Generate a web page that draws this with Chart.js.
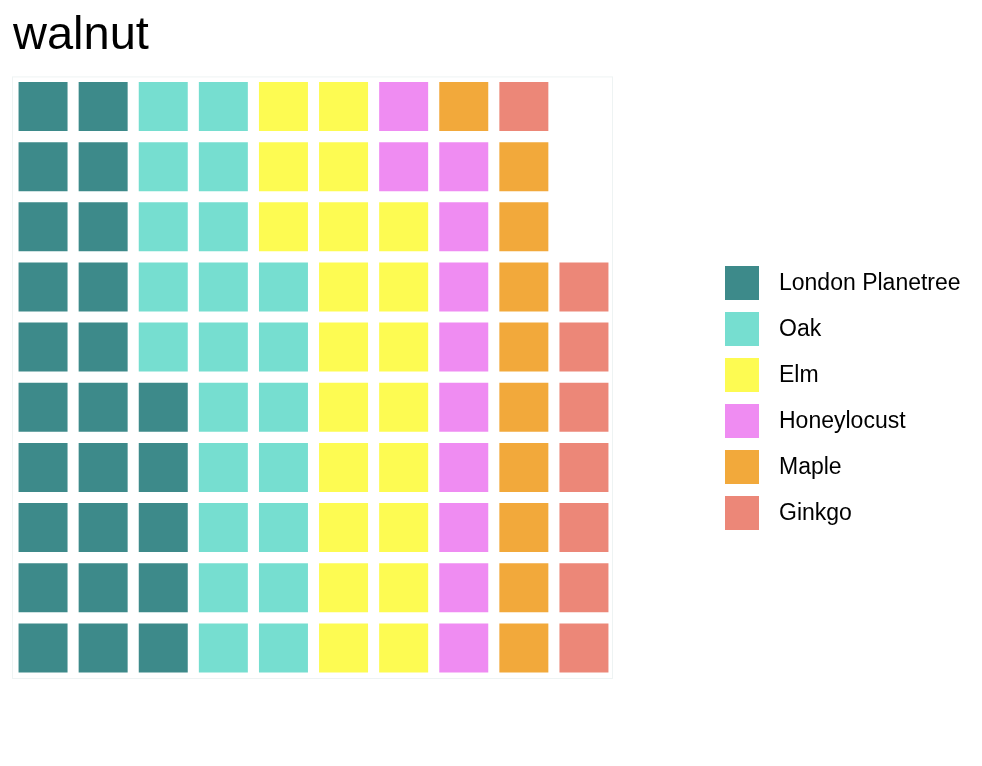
<!DOCTYPE html>
<html>
<head>
<meta charset="utf-8">
<title>walnut</title>
<script src="https://cdn.jsdelivr.net/npm/chart.js@4.4.1/dist/chart.umd.min.js"></script>
<style>
  body { margin: 0; background: #ffffff; }
  #wrap { width: 982px; height: 766px; }
</style>
</head>
<body>
<div id="wrap"><canvas id="waffle" width="982" height="766"></canvas></div>
<script>
// data
const chartTitle = 'walnut';
const categories = ['London Planetree', 'Oak', 'Elm', 'Honeylocust', 'Maple', 'Ginkgo'];
const counts = [25, 22, 21, 11, 10, 8];
const colors = ['#3d8a8a', '#76ded0', '#fdfb52', '#ef8cf2', '#f2a93b', '#ec8778'];
const nRows = 10;
const nCols = 10;

const fontFamily = '"Liberation Sans", Arial, Helvetica, sans-serif';

// fill the grid column by column, bottom to top
function buildDatasets() {
    let idx = 0;
    return categories.map((name, c) => {
        const pts = [];
        for (let k = 0; k < counts[c]; k++) {
            pts.push({ x: Math.floor(idx / nRows) + 1, y: (idx % nRows) + 1 });
            idx++;
        }
        return {
            label: name,
            data: pts,
            backgroundColor: colors[c],
            borderWidth: 0,
            pointStyle: 'rect',
            pointRadius: 49 / Math.SQRT2,
            pointHoverRadius: 49 / Math.SQRT2
        };
    });
}

// faint panel outline behind the tiles
const panelBorder = {
    id: 'panelBorder',
    beforeDatasetsDraw(chart) {
        const a = chart.chartArea;
        const ctx = chart.ctx;
        ctx.save();
        ctx.strokeStyle = '#eef3f3';
        ctx.lineWidth = 1;
        ctx.strokeRect(a.left - 0.5, a.top + 0.5, a.right - a.left - 1, a.bottom - a.top);
        ctx.restore();
    }
};

// legend on the right, drawn from the datasets
const sideLegend = {
    id: 'sideLegend',
    afterDraw(chart) {
        const ctx = chart.ctx;
        const x0 = 725, y0 = 266, box = 34, step = 46;
        ctx.save();
        ctx.font = '23px ' + fontFamily;
        ctx.textBaseline = 'middle';
        chart.data.datasets.forEach((ds, i) => {
            const y = y0 + i * step;
            ctx.fillStyle = ds.backgroundColor;
            ctx.fillRect(x0, y, box, box);
            ctx.fillStyle = '#000000';
            ctx.fillText(ds.label, x0 + box + 20, y + box / 2 + 1);
        });
        ctx.restore();
    }
};

const ctx = document.getElementById('waffle').getContext('2d');
window.myWaffle = new Chart(ctx, {
    type: 'scatter',
    data: { datasets: buildDatasets() },
    options: {
        responsive: false,
        animation: false,
        devicePixelRatio: 1,
        layout: {
            autoPadding: false,
            padding: { left: 13, right: 368, top: 0, bottom: 88 }
        },
        scales: {
            x: { display: false, min: 0.5, max: nCols + 0.5 },
            y: { display: false, min: 0.5, max: nRows + 0.5 }
        },
        plugins: {
            legend: { display: false },
            tooltip: { enabled: false },
            title: {
                display: true,
                text: chartTitle,
                align: 'start',
                color: '#000000',
                font: { family: fontFamily, size: 47, weight: 'normal' },
                padding: { top: 8, bottom: 12 }
            }
        }
    },
    plugins: [panelBorder, sideLegend]
});
</script>
</body>
</html>
